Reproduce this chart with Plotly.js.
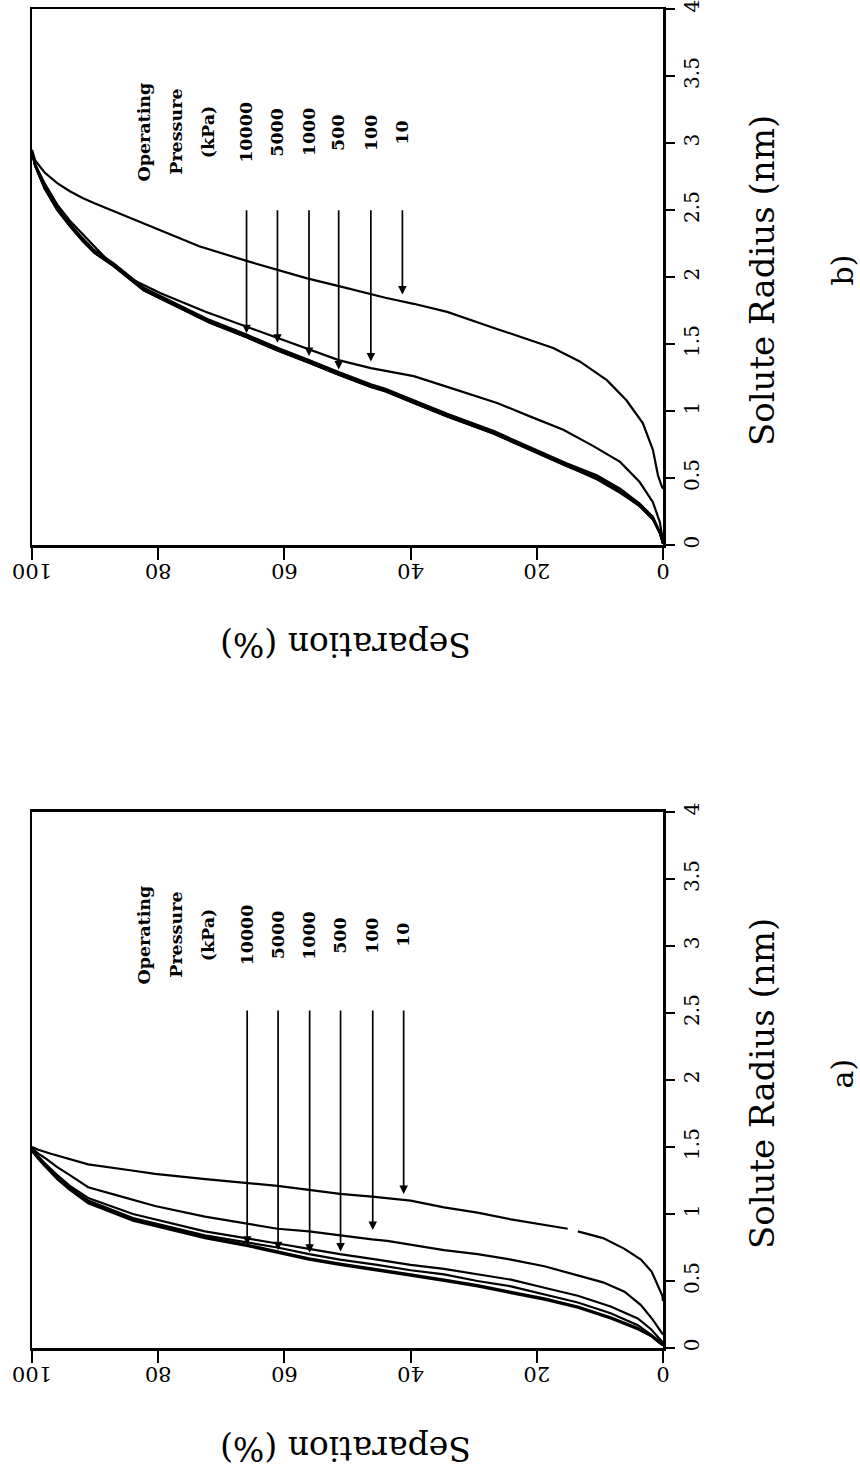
<!DOCTYPE html>
<html>
<head>
<meta charset="utf-8">
<script src="https://cdn.plot.ly/plotly-3.0.1.min.js"></script>
<style>
  html, body { margin: 0; padding: 0; background: #fff; }
  #chart { width: 860px; height: 1473px; }
</style>
</head>
<body>
<div id="chart"></div>
<script>
// ---------------- data (Separation %, Solute radius nm) ----------------
// Panel b
const sepB10 = [100, 99.5, 98, 96, 94, 92, 90.1, 84.9, 79.7, 73.5, 66.0, 61.0, 56.4, 51.2, 46.3, 44, 39.5, 34.2, 26.8, 21.1, 17.4, 13.2, 8.9, 5.8, 3.2, 1.6, 0.8, 0.3, 0];
const radB10 = [2.95, 2.87, 2.78, 2.70, 2.64, 2.59, 2.55, 2.45, 2.35, 2.23, 2.12, 2.05, 1.99, 1.93, 1.87, 1.845, 1.80, 1.74, 1.62, 1.53, 1.47, 1.37, 1.23, 1.08, 0.91, 0.71, 0.52, 0.45, 0.42];

const sepB100 = [100, 99.5, 98, 96, 94, 92, 90, 87.5, 84.9, 79.7, 72.5, 66.0, 61.0, 56.1, 51.4, 46.3, 44, 39.5, 34.2, 26.3, 21.1, 15.8, 11.1, 6.8, 3.7, 1.6, 0.5, 0.1, 0];
const radB100 = [2.94, 2.84, 2.70, 2.54, 2.42, 2.32, 2.22, 2.10, 2.00, 1.88, 1.74, 1.63, 1.54, 1.46, 1.38, 1.32, 1.30, 1.26, 1.18, 1.06, 0.96, 0.86, 0.74, 0.62, 0.47, 0.32, 0.17, 0.06, 0.03];

const sepBLow = [100, 99.5, 98, 96, 94, 92, 90.1, 87.0, 82.3, 77.1, 71.9, 66.0, 61.0, 56.1, 51.4, 46.3, 44, 39.5, 34.2, 26.8, 21.1, 15.3, 10.5, 6.8, 3.7, 1.6, 0.5, 0.1, 0];
const radB500   = [2.93, 2.84, 2.68, 2.52, 2.40, 2.29, 2.20, 2.10, 1.92, 1.80, 1.68, 1.57, 1.47, 1.38, 1.29, 1.20, 1.165, 1.08, 0.98, 0.85, 0.73, 0.61, 0.52, 0.42, 0.31, 0.21, 0.10, 0.04, 0.01];
const radB1000  = [2.93, 2.83, 2.67, 2.51, 2.39, 2.28, 2.19, 2.09, 1.91, 1.79, 1.67, 1.56, 1.46, 1.37, 1.28, 1.19, 1.155, 1.07, 0.97, 0.84, 0.72, 0.60, 0.51, 0.41, 0.30, 0.20, 0.09, 0.03, 0.01];
const radB5000  = [2.93, 2.83, 2.66, 2.50, 2.38, 2.27, 2.18, 2.08, 1.90, 1.78, 1.66, 1.55, 1.45, 1.36, 1.27, 1.18, 1.15, 1.06, 0.96, 0.83, 0.71, 0.59, 0.50, 0.40, 0.29, 0.19, 0.09, 0.03, 0.01];
const radB10000 = [2.93, 2.83, 2.66, 2.50, 2.38, 2.27, 2.18, 2.08, 1.90, 1.78, 1.66, 1.55, 1.45, 1.36, 1.27, 1.18, 1.145, 1.06, 0.96, 0.83, 0.71, 0.59, 0.49, 0.39, 0.29, 0.19, 0.09, 0.03, 0.01];

// Panel a
const sepA10 = [100, 99, 97, 94, 91.1, 85, 80.5, 72.5, 65.8, 61.1, 56.1, 51.2, 46.1, 43.7, 40.0, 34.7, 29.4, 24.1, 18.8, 15.1, null, 13.5, 9.5, 6.1, 3.5, 1.8, 0.6, 0.1, 0];
const radA10 = [1.50, 1.48, 1.45, 1.41, 1.37, 1.33, 1.30, 1.26, 1.23, 1.21, 1.18, 1.15, 1.13, 1.12, 1.10, 1.05, 1.01, 0.96, 0.92, 0.89, null, 0.87, 0.82, 0.74, 0.66, 0.57, 0.45, 0.39, 0.35];

const sepA100 = [100, 99, 98, 96, 94, 91.1, 85.8, 80.5, 72.6, 65.8, 61.1, 56.1, 51.2, 46.1, 43.7, 40.0, 34.7, 29.4, 24.1, 18.8, 13.5, 9.5, 6.1, 3.5, 1.6, 0.6, 0.1, 0];
const radA100 = [1.49, 1.45, 1.42, 1.35, 1.29, 1.20, 1.13, 1.06, 0.98, 0.93, 0.89, 0.87, 0.84, 0.81, 0.80, 0.77, 0.73, 0.70, 0.66, 0.61, 0.54, 0.49, 0.42, 0.32, 0.21, 0.14, 0.11, 0.10];

const sepALow = [100, 99, 98, 96, 94, 91.1, 84, 72.6, 65.8, 61.1, 56.1, 51.2, 45.3, 40, 34.7, 29.4, 24.1, 18.8, 13.5, 8.3, 4.0, 1.9, 0.6, 0];
const radA500   = [1.48, 1.43, 1.38, 1.29, 1.21, 1.12, 1.00, 0.87, 0.82, 0.78, 0.74, 0.70, 0.66, 0.62, 0.59, 0.55, 0.51, 0.45, 0.39, 0.31, 0.22, 0.14, 0.07, 0.04];
const radA1000  = [1.47, 1.42, 1.37, 1.28, 1.20, 1.10, 0.97, 0.84, 0.79, 0.75, 0.70, 0.66, 0.62, 0.58, 0.55, 0.50, 0.46, 0.40, 0.34, 0.26, 0.17, 0.10, 0.05, 0.03];
const radA5000  = [1.47, 1.42, 1.36, 1.27, 1.19, 1.09, 0.96, 0.83, 0.77, 0.72, 0.67, 0.63, 0.59, 0.55, 0.51, 0.47, 0.42, 0.37, 0.31, 0.23, 0.15, 0.09, 0.04, 0.02];
const radA10000 = [1.47, 1.41, 1.36, 1.26, 1.18, 1.08, 0.95, 0.82, 0.76, 0.71, 0.66, 0.62, 0.58, 0.54, 0.50, 0.46, 0.41, 0.36, 0.30, 0.22, 0.14, 0.09, 0.04, 0.02];

// Pressure labels and arrows (order: 10000, 5000, 1000, 500, 100, 10 kPa)
const pressureLabels = ['10000', '5000', '1000', '500', '100', '10'];
const headerLabels = ['Operating', 'Pressure', '(kPa)'];
const headerSep = [82.2, 77.1, 72.1];
const labelRadius = 3.08;
const arrowSepA = [65.9, 61.0, 56.0, 51.1, 46.0, 41.1];
const arrowTipA = [0.77, 0.73, 0.71, 0.72, 0.88, 1.15];
const arrowTailA = 2.53;
const arrowSepB = [66.0, 61.1, 56.1, 51.4, 46.3, 41.3];
const arrowTipB = [1.58, 1.51, 1.41, 1.31, 1.37, 1.87];
const arrowTailB = 2.51;

const sepTicks = [0, 20, 40, 60, 80, 100];
const radTicks = [0, 0.5, 1, 1.5, 2, 2.5, 3, 3.5, 4];
const radTickText = ['0', '0.5', '1', '1.5', '2', '2.5', '3', '3.5', '4'];

// ---------------- traces ----------------
function line(x, y, xa, ya, name) {
  return { x: x, y: y, xaxis: xa, yaxis: ya, name: name, type: 'scatter', mode: 'lines',
           line: { color: '#000', width: 2.2 }, connectgaps: false, hoverinfo: 'skip' };
}
const traces = [
  line(sepA10, radA10, 'x', 'y', 'a 10 kPa'),
  line(sepA100, radA100, 'x', 'y', 'a 100 kPa'),
  line(sepALow, radA500, 'x', 'y', 'a 500 kPa'),
  line(sepALow, radA1000, 'x', 'y', 'a 1000 kPa'),
  line(sepALow, radA5000, 'x', 'y', 'a 5000 kPa'),
  line(sepALow, radA10000, 'x', 'y', 'a 10000 kPa'),
  line(sepB10, radB10, 'x2', 'y2', 'b 10 kPa'),
  line(sepB100, radB100, 'x2', 'y2', 'b 100 kPa'),
  line(sepBLow, radB500, 'x2', 'y2', 'b 500 kPa'),
  line(sepBLow, radB1000, 'x2', 'y2', 'b 1000 kPa'),
  line(sepBLow, radB5000, 'x2', 'y2', 'b 5000 kPa'),
  line(sepBLow, radB10000, 'x2', 'y2', 'b 10000 kPa')
];

// ---------------- annotations ----------------
const SERIF = 'DejaVu Serif, Liberation Serif, serif';
const annotations = [];
function panelAnnotations(xr, yr, axisPaperY, arrowSep, arrowTip, arrowTail, label) {
  headerLabels.forEach((t, i) => annotations.push({
    xref: xr, yref: yr, x: headerSep[i], y: labelRadius, text: '<b>' + t + '</b>',
    textangle: -90, showarrow: false, font: { family: SERIF, size: 17.5, color: '#000' },
    xanchor: 'center', yanchor: 'middle'
  }));
  pressureLabels.forEach((t, i) => {
    annotations.push({
      xref: xr, yref: yr, x: arrowSep[i], y: labelRadius, text: '<b>' + t + '</b>',
      textangle: -90, showarrow: false, font: { family: SERIF, size: 17.5, color: '#000' },
      xanchor: 'center', yanchor: 'middle'
    });
    annotations.push({
      xref: xr, yref: yr, x: arrowSep[i], y: arrowTip[i], axref: xr, ayref: yr,
      ax: arrowSep[i], ay: arrowTail, text: '', showarrow: true, arrowhead: 2,
      arrowsize: 1, arrowwidth: 1.7, arrowcolor: '#000', standoff: 0, startstandoff: 0
    });
  });
  annotations.push({
    xref: 'paper', yref: yr, x: 1.157, y: 1.97, text: 'Solute Radius (nm)', textangle: -90,
    showarrow: false, font: { family: SERIF, size: 34, color: '#000' },
    xanchor: 'center', yanchor: 'middle'
  });
  annotations.push({
    xref: 'paper', yref: yr, x: 1.284, y: 2.05, text: label, textangle: -90,
    showarrow: false, font: { family: SERIF, size: 30, color: '#000' },
    xanchor: 'center', yanchor: 'middle'
  });
  annotations.push({
    xref: xr, yref: 'paper', x: 50.4, y: axisPaperY - 100 / 1339, text: 'Separation (%)', textangle: 180,
    showarrow: false, font: { family: SERIF, size: 33, color: '#000' },
    xanchor: 'center', yanchor: 'middle'
  });
}
panelAnnotations('x', 'y', 0, arrowSepA, arrowTipA, arrowTailA, 'a)');
panelAnnotations('x2', 'y2', 0.5997, arrowSepB, arrowTipB, arrowTailB, 'b)');

// ---------------- axes ----------------
function sepAxis(anchor) {
  return {
    anchor: anchor, domain: [0, 1], range: [100, 0], tickvals: sepTicks,
    ticktext: sepTicks.map(String), tickangle: 180, ticklabeloverflow: 'allow',
    ticks: 'outside', ticklen: 12, tickwidth: 2, tickcolor: '#000',
    showline: true, linewidth: 2.5, linecolor: '#000', mirror: true,
    showgrid: false, zeroline: false,
    tickfont: { family: SERIF, size: 21, color: '#000' }
  };
}
function radAxis(anchor, domain) {
  return {
    anchor: anchor, domain: domain, range: [0, 4], side: 'right',
    tickvals: radTicks, ticktext: radTickText, tickangle: -90, ticklabeloverflow: 'allow',
    ticks: 'outside', ticklen: 9, tickwidth: 2, tickcolor: '#000',
    showline: true, linewidth: 2.5, linecolor: '#000', mirror: true,
    showgrid: false, zeroline: false,
    tickfont: { family: SERIF, size: 20, color: '#000' }
  };
}

const layout = {
  width: 860, height: 1473,
  margin: { l: 32, r: 197, t: 9, b: 125 },
  paper_bgcolor: '#fff', plot_bgcolor: '#fff',
  showlegend: false,
  font: { family: SERIF, color: '#000' },
  xaxis: sepAxis('y'),
  yaxis: radAxis('x', [0, 0.4003]),
  xaxis2: sepAxis('y2'),
  yaxis2: radAxis('x2', [0.5997, 1]),
  annotations: annotations
};

Plotly.newPlot('chart', traces, layout, { displayModeBar: false, staticPlot: true });
</script>
</body>
</html>
